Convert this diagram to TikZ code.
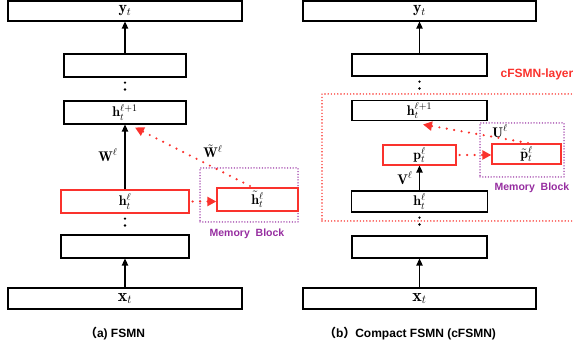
\documentclass[tikz,border=0pt]{standalone}
\usepackage{fontspec}
\setsansfont{Liberation Sans}
\newfontfamily\cjk{Noto Sans CJK SC}
\usetikzlibrary{arrows.meta}
\definecolor{myred}{RGB}{250,50,45}
\definecolor{mypurple}{RGB}{150,45,160}
\begin{document}
\begin{tikzpicture}[x=1pt,y=-1pt,
  box/.style={draw=black, line width=1.3pt, inner sep=0pt, font=\fontsize{14}{16}\selectfont},
  redbox/.style={box, draw=myred},
  memblk/.style={draw=mypurple, line width=1.5pt, dash pattern=on 0pt off 2.8pt, line cap=round, inner sep=0pt},
  layerbox/.style={draw=myred, line width=1.6pt, dash pattern=on 0pt off 3.2pt, line cap=round, inner sep=0pt},
  arr/.style={line width=1.3pt, -{Triangle[length=7pt,width=6.5pt]}},
  vdots/.style={line width=2.6pt, line cap=round, dash pattern=on 0pt off 6.9pt, shorten <=5pt, shorten >=5pt},
  reddot/.style={draw=myred, line width=2.4pt, line cap=round, dash pattern=on 0pt off 7.5pt, -{Triangle[length=9pt,width=9pt,fill=myred]}},
  lbl/.style={inner sep=0pt, font=\fontsize{14}{16}\selectfont},
  sanslbl/.style={inner sep=0pt, font=\sffamily\bfseries\fontsize{12}{14}\selectfont},
  memlbl/.style={inner sep=0pt, text=mypurple, font=\sffamily\bfseries\fontsize{10.5}{12}\selectfont}
]
\clip (0,0) rectangle (574,352);
% ---------- left panel ----------
\node[box, minimum width=234pt, minimum height=20pt, font=\fontsize{16}{18}\selectfont] (yL) at (125,11) {$\mathbf{y}_t$};
\node[box, minimum width=122pt, minimum height=23pt] (aL) at (125,65.5) {};
\node[box, minimum width=122pt, minimum height=23pt] (hL1) at (125,112.5) {$\mathbf{h}_t^{\ell+1}$};
\node[redbox, minimum width=128pt, minimum height=23pt] (hL) at (125,201.5) {$\mathbf{h}_t^{\ell}$};
\node[box, minimum width=128pt, minimum height=23pt] (bL) at (125,246.5) {};
\node[box, minimum width=234pt, minimum height=21pt, font=\fontsize{18}{20}\selectfont] (xL) at (125,298.5) {$\mathbf{x}_t$};
\node[memblk, minimum width=98pt, minimum height=54pt] (mL) at (249,195) {};
\node[redbox, minimum width=81pt, minimum height=23pt] (htL) at (257.5,199.5) {$\tilde{\mathbf{h}}_t^{\ell}$};
\node[memlbl] (mtL) at (247,234) {Memory\ \ Block};
\node[lbl] (wL) at (108,155) {$\mathbf{W}^{\ell}$};
\node[lbl] (wtL) at (213,151) {$\tilde{\mathbf{W}}^{\ell}$};
\node[sanslbl] (capL) at (115,334) {{\cjk （}a) FSMN};
\draw[arr] (xL) -- (bL);
\draw[arr] (hL) -- (hL1);
\draw[arr] (aL) -- (yL);
\draw[vdots] (aL.south) -- (hL1.north);
\draw[vdots] (hL.south) -- (bL.north);
\coordinate (sL) at (250,186);
\coordinate (eL) at (135,127.5);
\draw[reddot] (sL) -- (eL);
\draw[reddot, shorten <=3pt] (hL.east) -- (hL.east -| htL.west);
% ---------- right panel ----------
\node[layerbox, minimum width=258pt, minimum height=127pt] (layer) at (451,157.5) {};
\node[box, minimum width=233pt, minimum height=20pt, font=\fontsize{16}{18}\selectfont] (yR) at (419.5,11) {$\mathbf{y}_t$};
\node[box, minimum width=135pt, minimum height=22pt] (aR) at (419.5,65) {};
\node[box, minimum width=135pt, minimum height=20pt] (hR1) at (419.5,110.8) {$\mathbf{h}_t^{\ell+1}$};
\node[redbox, minimum width=73pt, minimum height=20pt] (pR) at (419.5,155) {$\mathbf{p}_t^{\ell}$};
\node[memblk, minimum width=84pt, minimum height=54pt] (mR) at (522,150) {};
\node[redbox, minimum width=69pt, minimum height=20pt] (ptR) at (526.5,154) {$\tilde{\mathbf{p}}_t^{\ell}$};
\node[box, minimum width=136pt, minimum height=21pt] (hR) at (419.5,201.5) {$\mathbf{h}_t^{\ell}$};
\node[box, minimum width=135pt, minimum height=22pt] (bR) at (419.5,247) {};
\node[box, minimum width=233pt, minimum height=21pt, font=\fontsize{18}{20}\selectfont] (xR) at (419.5,298.5) {$\mathbf{x}_t$};
\node[sanslbl, text=myred, anchor=east] (layerlbl) at (573.5,74) {cFSMN-layer};
\node[memlbl] (mtR) at (532,188) {Memory\ \ Block};
\node[lbl] (uR) at (500,131) {$\mathbf{U}^{\ell}$};
\node[lbl] (vR) at (405,178) {$\mathbf{V}^{\ell}$};
\node[sanslbl] (capR) at (410,334) {{\cjk （}b{\cjk ）}Compact FSMN (cFSMN)};
\draw[arr] (xR) -- (bR);
\draw[arr] (hR) -- (pR);
\draw[arr] (aR) -- (yR);
\draw[vdots] (aR.south) -- (hR1.north);
\draw[vdots] (hR.south) -- (bR.north);
\coordinate (sR) at (528,143);
\coordinate (eR) at (423,124.5);
\draw[reddot] (sR) -- (eR);
\draw[reddot, shorten <=3pt] (pR.east) -- (pR.east -| ptR.west);
\end{tikzpicture}
\end{document}
